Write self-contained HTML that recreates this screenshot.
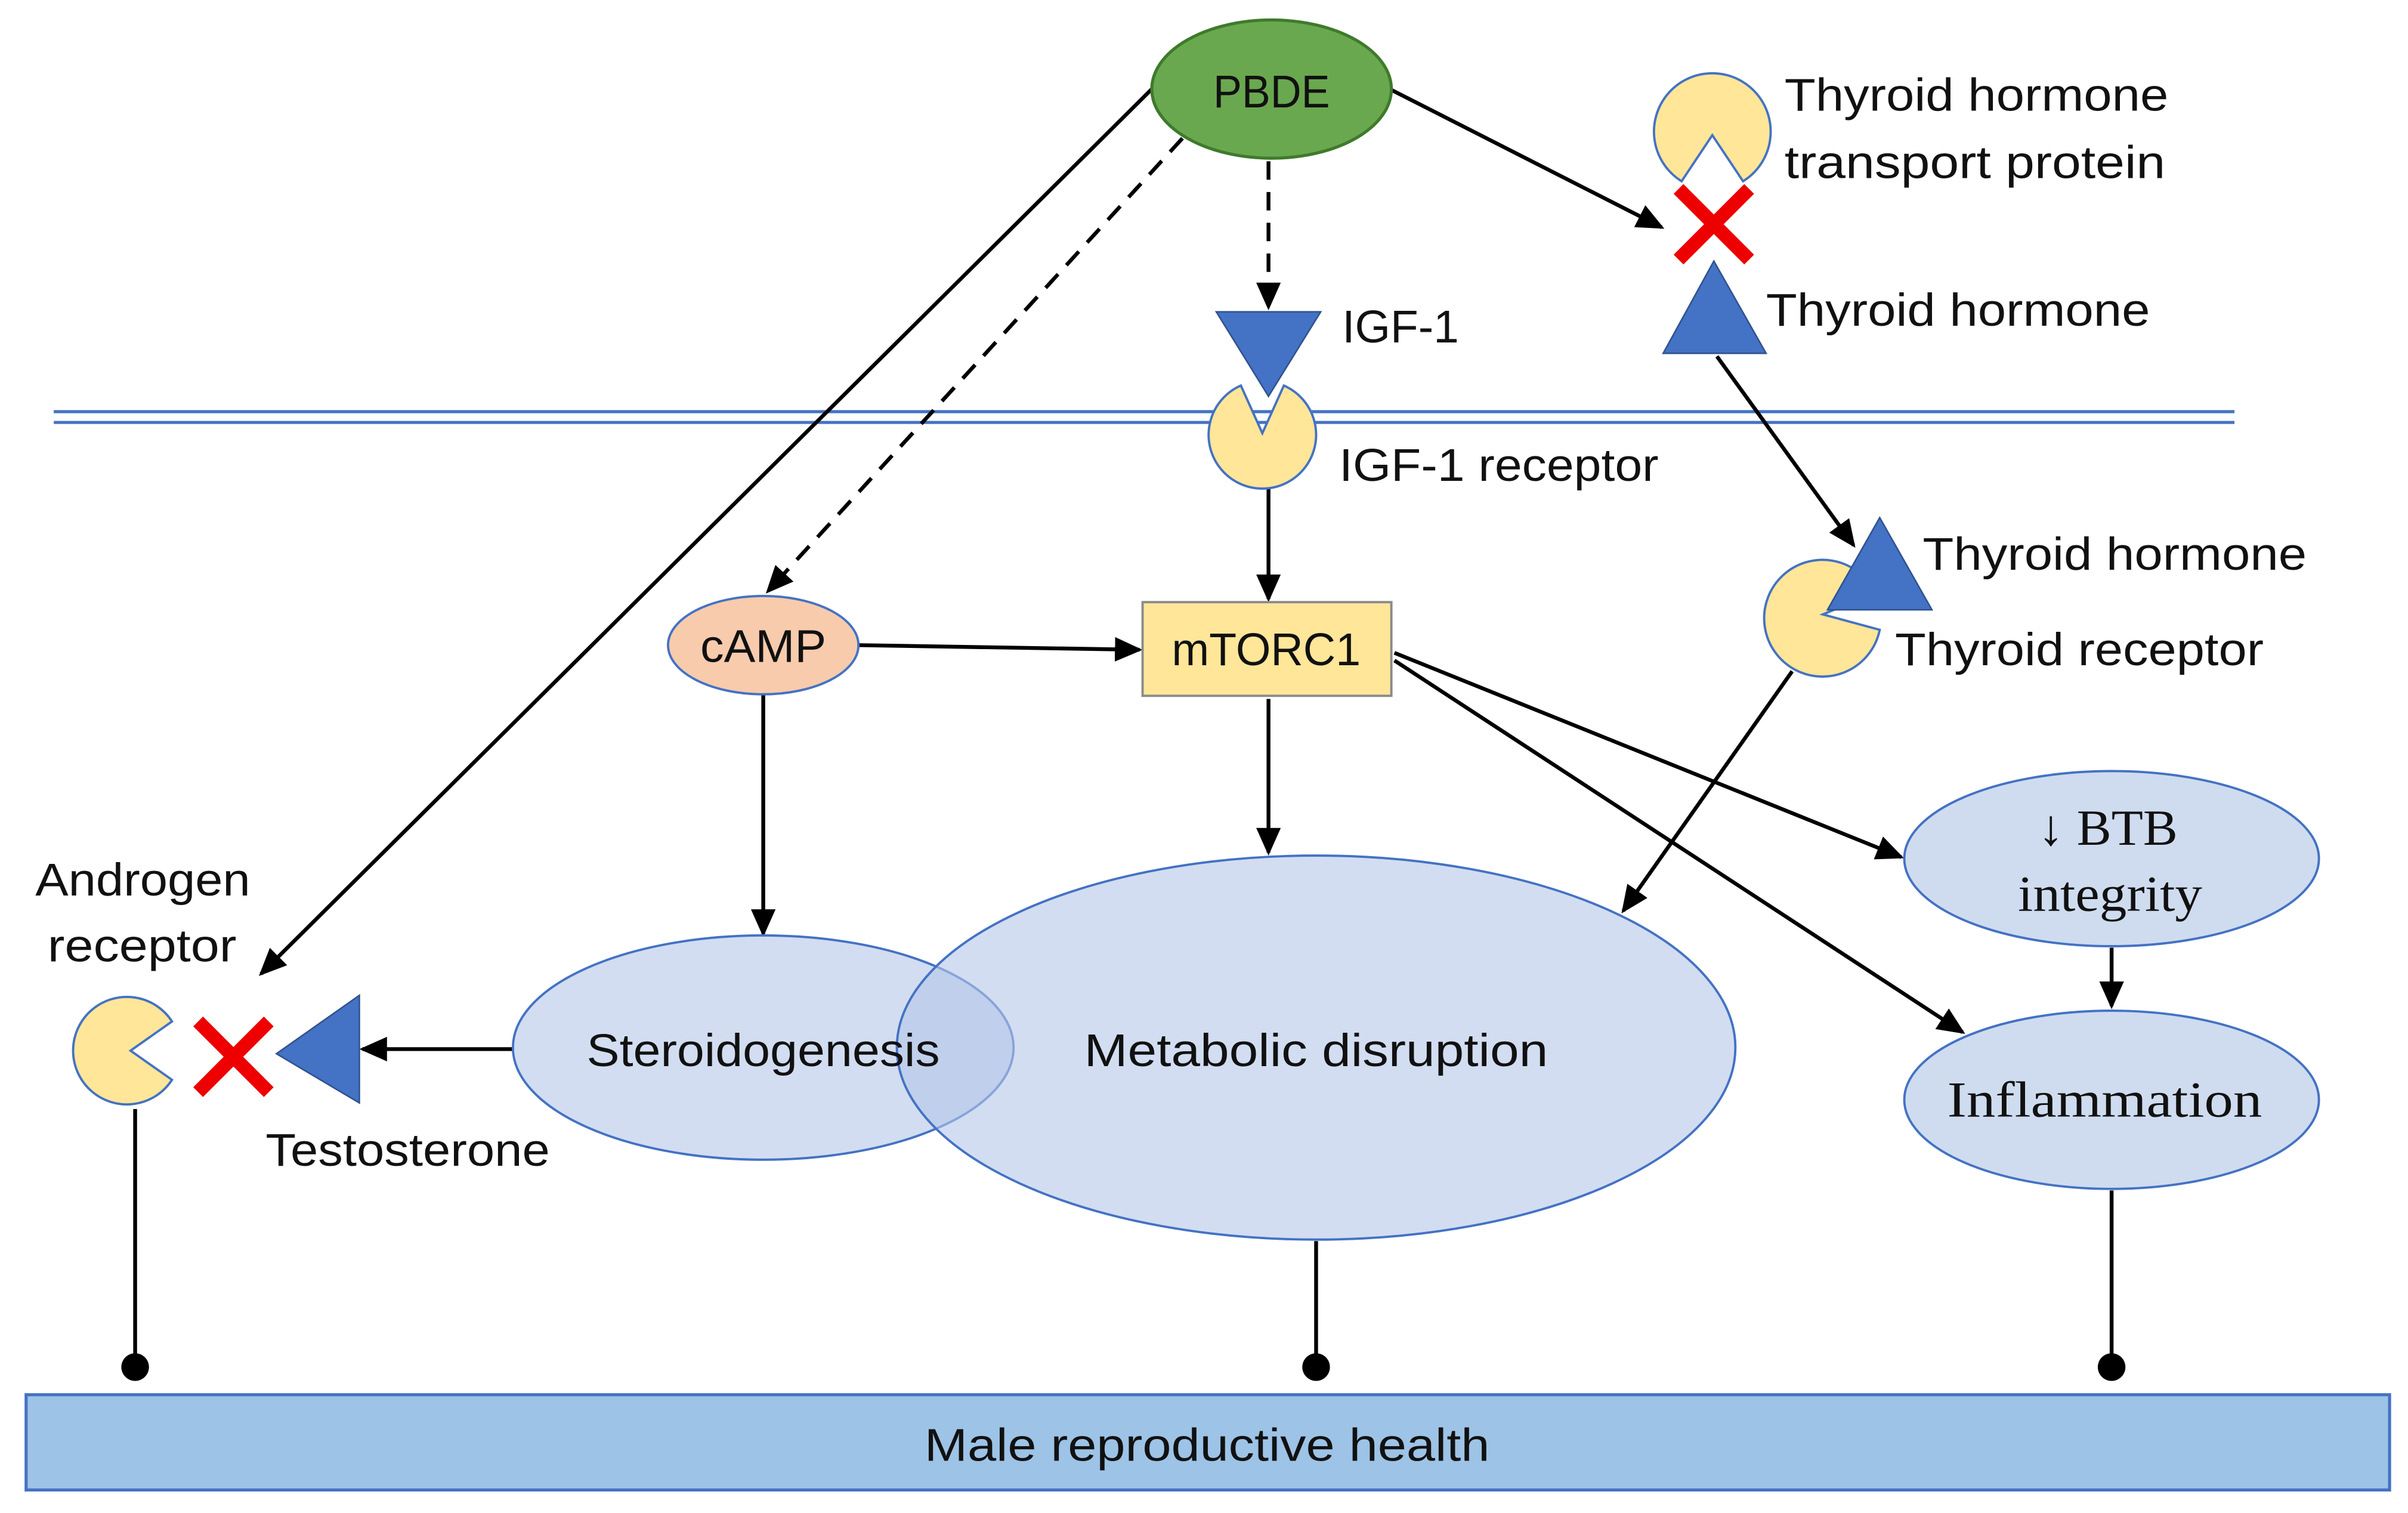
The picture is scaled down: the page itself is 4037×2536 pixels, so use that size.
<!DOCTYPE html>
<html><head><meta charset="utf-8"><style>
html,body{margin:0;padding:0;background:#fff;}
svg{display:block;}
text{font-family:"Liberation Sans",sans-serif;font-size:30px;fill:#111;}
.s{font-family:"Liberation Serif",serif;font-size:33px;}
</style></head><body>
<svg width="4037" height="2536" viewBox="0 0 1568 985" xmlns="http://www.w3.org/2000/svg">
<defs>
<marker id="b" markerWidth="18" markerHeight="16" refX="16" refY="8" orient="auto" markerUnits="userSpaceOnUse">
<path d="M0,0 L18,8 L0,16 z" fill="#000"/></marker>
</defs>
<rect width="1568" height="985" fill="#fff"/>
<line x1="35" y1="268" x2="1455" y2="268" stroke="#4472c4" stroke-width="2"/>
<line x1="35" y1="275" x2="1455" y2="275" stroke="#4472c4" stroke-width="2"/>
<g stroke="#000" stroke-width="2.5" fill="none">
<line x1="750" y1="58" x2="170" y2="634" marker-end="url(#b)"/>
<line x1="770" y1="90" x2="500" y2="385" stroke-dasharray="12,8" marker-end="url(#b)"/>
<line x1="826" y1="105" x2="826" y2="200" stroke-dasharray="12,8" marker-end="url(#b)"/>
<line x1="905" y1="58" x2="1082" y2="148" marker-end="url(#b)"/>
<line x1="1118" y1="232" x2="1207" y2="355" marker-end="url(#b)"/>
<line x1="1167" y1="437" x2="1057" y2="593" marker-end="url(#b)"/>
<line x1="826" y1="318" x2="826" y2="390" marker-end="url(#b)"/>
<line x1="558" y1="420" x2="742" y2="423" marker-end="url(#b)"/>
<line x1="497" y1="452" x2="497" y2="608" marker-end="url(#b)"/>
<line x1="826" y1="455" x2="826" y2="555" marker-end="url(#b)"/>
<line x1="908" y1="425" x2="1238" y2="558" marker-end="url(#b)"/>
<line x1="908" y1="430" x2="1278" y2="672" marker-end="url(#b)"/>
<line x1="1375" y1="617" x2="1375" y2="655" marker-end="url(#b)"/>
<line x1="334" y1="683" x2="236" y2="683" marker-end="url(#b)"/>
<line x1="88" y1="722" x2="88" y2="890"/>
<line x1="857" y1="808" x2="857" y2="890"/>
<line x1="1375" y1="775" x2="1375" y2="890"/>
</g>
<circle cx="88" cy="890" r="9" fill="#000"/>
<circle cx="857" cy="890" r="9" fill="#000"/>
<circle cx="1375" cy="890" r="9" fill="#000"/>
<ellipse cx="828" cy="58" rx="78" ry="45" fill="#6aa84f" stroke="#3f7a2c" stroke-width="2"/>
<text x="790" y="70" textLength="76" lengthAdjust="spacingAndGlyphs">PBDE</text>
<path d="M822,282 L808,251 A35,35 0 1,0 836,251 Z" fill="#ffe699" stroke="#4472c4" stroke-width="1.5"/>
<polygon points="792,203 860,203 826,258" fill="#4472c4" stroke="#2f528f" stroke-width="1"/>
<text x="874" y="223" textLength="76" lengthAdjust="spacingAndGlyphs">IGF-1</text>
<text x="872" y="313" textLength="208" lengthAdjust="spacingAndGlyphs">IGF-1 receptor</text>
<path d="M1115,88 L1135,118 A38,38 0 1,0 1095,118 Z" fill="#ffe699" stroke="#4472c4" stroke-width="1.5"/>
<g stroke="#e00" stroke-width="9"><line x1="1093" y1="123" x2="1139" y2="169"/><line x1="1139" y1="123" x2="1093" y2="169"/></g>
<polygon points="1083,230 1150,230 1116,170" fill="#4472c4" stroke="#2f528f" stroke-width="1"/>
<text x="1162" y="72" textLength="250" lengthAdjust="spacingAndGlyphs">Thyroid hormone</text>
<text x="1162" y="116" textLength="248" lengthAdjust="spacingAndGlyphs">transport protein</text>
<text x="1150" y="212" textLength="250" lengthAdjust="spacingAndGlyphs">Thyroid hormone</text>
<path d="M1187,400 L1221,386 A38,38 0 1,0 1224,410 Z" fill="#ffe699" stroke="#4472c4" stroke-width="1.5"/>
<polygon points="1190,397 1258,397 1224,337" fill="#4472c4" stroke="#2f528f" stroke-width="1"/>
<text x="1252" y="371" textLength="250" lengthAdjust="spacingAndGlyphs">Thyroid hormone</text>
<text x="1234" y="433" textLength="240" lengthAdjust="spacingAndGlyphs">Thyroid receptor</text>
<ellipse cx="497" cy="420" rx="62" ry="32" fill="#f8cbad" stroke="#4472c4" stroke-width="1.5"/>
<text x="456" y="431" textLength="82" lengthAdjust="spacingAndGlyphs">cAMP</text>
<rect x="744" y="392" width="162" height="61" fill="#ffe699" stroke="#8a8a8a" stroke-width="1.5"/>
<text x="763" y="433" textLength="123" lengthAdjust="spacingAndGlyphs">mTORC1</text>
<ellipse cx="1375" cy="559" rx="135" ry="57" fill="#cfdcef" stroke="#4472c4" stroke-width="1.5"/>
<text class="s" x="1327" y="550" textLength="91" lengthAdjust="spacingAndGlyphs">↓ BTB</text>
<text class="s" x="1314" y="593" textLength="120" lengthAdjust="spacingAndGlyphs">integrity</text>
<ellipse cx="1375" cy="716" rx="135" ry="58" fill="#cfdcef" stroke="#4472c4" stroke-width="1.5"/>
<text class="s" x="1268" y="727" textLength="205" lengthAdjust="spacingAndGlyphs">Inflammation</text>
<ellipse cx="497" cy="682" rx="163" ry="73" fill="rgba(180,199,231,0.6)" stroke="#4472c4" stroke-width="1.5"/>
<ellipse cx="857" cy="682" rx="273" ry="125" fill="rgba(180,199,231,0.6)" stroke="#4472c4" stroke-width="1.5"/>
<text x="382" y="694" textLength="230" lengthAdjust="spacingAndGlyphs">Steroidogenesis</text>
<text x="706" y="694" textLength="302" lengthAdjust="spacingAndGlyphs">Metabolic disruption</text>
<path d="M85,684 L112,665 A35,35 0 1,0 112,703 Z" fill="#ffe699" stroke="#4472c4" stroke-width="1.5"/>
<g stroke="#e00" stroke-width="9"><line x1="129" y1="665" x2="175" y2="711"/><line x1="175" y1="665" x2="129" y2="711"/></g>
<polygon points="180,686 234,648 234,718" fill="#4472c4" stroke="#2f528f" stroke-width="1"/>
<text x="23" y="583" textLength="140" lengthAdjust="spacingAndGlyphs">Androgen</text>
<text x="31" y="626" textLength="123" lengthAdjust="spacingAndGlyphs">receptor</text>
<text x="173" y="759" textLength="185" lengthAdjust="spacingAndGlyphs">Testosterone</text>
<rect x="17" y="908" width="1539" height="62" fill="#9dc3e6" stroke="#4472c4" stroke-width="2"/>
<text x="602" y="951" textLength="368" lengthAdjust="spacingAndGlyphs">Male reproductive health</text>
</svg>
</body></html>
